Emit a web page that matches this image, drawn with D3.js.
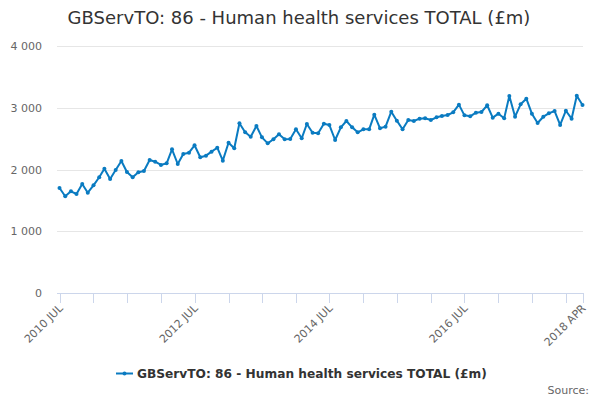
<!DOCTYPE html>
<html><head><meta charset="utf-8">
<script src="https://cdn.jsdelivr.net/npm/d3@7"></script>
<style>body{margin:0;background:#fff}svg{display:block;font-family:"DejaVu Sans",sans-serif}</style>
</head><body><svg id="c" width="600" height="400"></svg>
<script>
const title = "GBServTO: 86 - Human health services TOTAL (£m)";
const seriesName = "GBServTO: 86 - Human health services TOTAL (£m)";
const startMonth = "2010-07";
const values = [1700,1566,1647,1603,1765,1624,1744,1874,2013,1846,1992,2138,1960,1874,1955,1976,
2154,2126,2073,2100,2327,2089,2251,2272,2392,2198,2224,2289,2353,2143,2434,2343,
2748,2602,2531,2704,2521,2424,2489,2570,2489,2494,2651,2505,2737,2596,2586,2740,
2720,2478,2683,2785,2683,2602,2651,2651,2888,2667,2694,2936,2791,2651,2802,2785,
2823,2829,2802,2845,2866,2883,2926,3050,2877,2861,2920,2931,3040,2839,2904,2830,
3190,2855,3056,3147,2904,2753,2855,2910,2947,2721,2952,2823,3195,3045];
const yTicks = [0,1000,2000,3000,4000];
const xLabels = ["2010 JUL","2012 JUL","2014 JUL","2016 JUL","2018 APR"];
const monthNames = ["JAN","FEB","MAR","APR","MAY","JUN","JUL","AUG","SEP","OCT","NOV","DEC"];

const parse = d3.timeParse("%Y-%m");
const t0 = parse(startMonth);
const data = values.map((v,i)=>({date:d3.timeMonth.offset(t0,i), v}));
const tEnd = data[data.length-1].date;

const svg = d3.select("#c");
const x = d3.scaleTime().domain([t0,tEnd]).range([59.5,582.5]);
const y = d3.scaleLinear().domain([0,4000]).range([293,46]);
const fmt = v => d3.format(",")(v).replace(/,/g," ");

// grid
svg.append("g").selectAll("line").data(yTicks.filter(d=>d>0)).join("line")
  .attr("x1",57).attr("x2",583).attr("y1",d=>Math.round(y(d))+0.5).attr("y2",d=>Math.round(y(d))+0.5)
  .attr("stroke","#e6e6e6");
svg.append("g").selectAll("text").data(yTicks).join("text")
  .attr("x",42).attr("y",d=>y(d)+4).attr("text-anchor","end")
  .attr("font-size",11).attr("fill","#666").text(fmt);

// x axis
const tickDates = d3.timeMonth.every(6).range(t0, d3.timeMonth.offset(tEnd,1)).filter(d=>d.getMonth()===0||d.getMonth()===6);
tickDates.push(tEnd);
const ax = svg.append("g");
ax.append("line").attr("x1",57).attr("x2",583).attr("y1",293.5).attr("y2",293.5).attr("stroke","#ccd6eb");
ax.selectAll("line.t").data(tickDates).join("line").attr("class","t")
  .attr("x1",d=>Math.round(x(d))+0.5).attr("x2",d=>Math.round(x(d))+0.5)
  .attr("y1",293).attr("y2",303).attr("stroke","#ccd6eb");
const lbl = d => d.getFullYear()+" "+monthNames[d.getMonth()];
ax.selectAll("text").data(tickDates.filter(d=>xLabels.includes(lbl(d)))).join("text")
  .attr("transform",d=>`translate(${x(d)+4},${309}) rotate(-45)`)
  .attr("text-anchor","end").attr("font-size",11).attr("fill","#666").text(lbl);

// line
const line = d3.line().x(d=>x(d.date)).y(d=>y(d.v));
svg.append("path").datum(data).attr("d",line).attr("fill","none")
  .attr("stroke","#0a7bc1").attr("stroke-width",2).attr("stroke-linejoin","round");
svg.append("g").selectAll("circle").data(data).join("circle")
  .attr("cx",d=>x(d.date)).attr("cy",d=>y(d.v)).attr("r",2).attr("fill","#0a7bc1");

// title
svg.append("text").attr("x",299).attr("y",24).attr("text-anchor","middle")
  .attr("font-size",18).attr("fill","#333").text(title);

// legend
const lg = svg.append("g");
lg.append("line").attr("x1",116).attr("x2",133).attr("y1",373.5).attr("y2",373.5).attr("stroke","#0a7bc1").attr("stroke-width",2);
lg.append("circle").attr("cx",124.5).attr("cy",373.5).attr("r",2).attr("fill","#0a7bc1");
lg.append("text").attr("x",137).attr("y",378).attr("font-size",12.2).attr("font-weight","bold").attr("fill","#333").text(seriesName);

svg.append("text").attr("x",589).attr("y",394).attr("text-anchor","end").attr("font-size",11).attr("fill","#666").text("Source:");
</script></body></html>
